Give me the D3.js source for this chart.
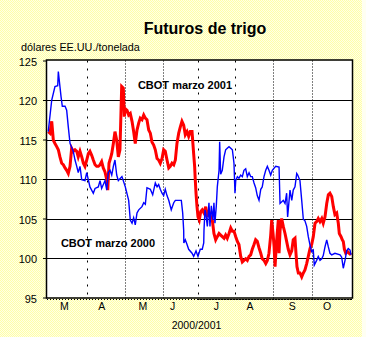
<!DOCTYPE html>
<html><head><meta charset="utf-8">
<script src="https://cdn.jsdelivr.net/npm/d3@7"></script>
<style>
html,body{margin:0;padding:0;background:#fffff0;}
svg{display:block;font-family:"Liberation Sans",Arial,sans-serif;}
</style></head>
<body>
<svg id="c" width="366" height="337"></svg>
<script>
// ---- data (day offsets from 1 March 2000, price in US$/t) ----
const title = "Futuros de trigo";
const unitLabel = "dólares EE.UU./tonelada";
const xTitle = "2000/2001";
const seriesNames = ["CBOT marzo 2001", "CBOT marzo 2000"];
const monthLabels = ["M","A","M","J","J","A","S","O"];
const monthLabelDays = [14, 44, 77, 101, 136, 163, 197, 225];
const monthStartDays = [32, 63, 93.5, 121, 151, 181.5, 213];
const monthStartStyle = ["sparse","fine","fine","sparse","sparse","fine","fine"];
const yTicks = [95, 100, 105, 110, 115, 120, 125];

const redDays = [1,2.4,3.8,5.1,6.4,7.8,9.1,10.4,11.8,13.1,14.5,15.8,17.1,18.5,19.8,21.1,22.5,23.9,25.1,26.5,27.9,29.2,30.5,31.9,33.2,34.5,35.9,37.2,38.6,39.9,41.2,42.6,43.9,45.2,46.6,48,48.8,49.8,50.6,52,53.3,54.6,56,57.3,58.6,60,61.3,62.1,62.9,64.3,65.6,66.9,68.3,69.6,70.9,72.3,73.7,74.9,76.3,77.7,79,80.3,81.7,83,84.3,85.7,87,88.4,89.7,91,92.4,93.7,95,96.4,97.8,99,100.4,101.8,103.1,104.4,105.8,107.1,108.4,109.8,111.1,112.5,113.8,115.1,116.5,117.8,118.6,119.1,119.7,120.5,121.3,122.3,123.5,124.7,126.1,127.5,128.8,130.1,131.5,132.8,134.1,135.5,136.8,138.2,139.5,140.8,142.2,143.5,144.8,146.2,147.6,148.9,150.2,151.6,152.9,154.2,155.6,156.9,158.2,159.6,160.9,162.3,163.6,164.9,166.3,167.6,168.9,170.3,171.7,172.9,174.3,175.7,177,178.3,179.7,180.5,181.6,182.4,183.2,184.3,185.8,186.4,187.2,188.5,189.8,191.2,192.5,193.8,195.2,196.6,197.8,199.2,200,200.8,201.9,203.2,204.6,205.9,207.2,208.6,209.9,211.3,212.6,213.9,215.3,216.6,217.9,219.3,220.7,221.9,223.3,224.7,226,227.3,228.7,230,231.3,232.7,234,234.8,236.2,237.2,238,238.9,240,241.5,242.6,244.2];
const redValues = [116.0,115.8,117.3,114.9,114.5,114.1,113.7,112.8,112.0,111.8,111.4,111.1,110.7,111.6,113.9,113.5,113.7,113.5,112.8,113.5,112.8,112.0,111.6,112.4,113.2,113.5,113.0,112.4,111.8,111.6,111.6,111.8,112.2,111.4,110.9,109.9,108.6,112.0,112.4,113.2,114.5,116.0,114.9,112.8,113.7,121.7,121.5,117.9,118.9,118.7,118.1,118.3,117.3,116.0,114.5,116.2,117.1,117.7,117.5,118.1,117.7,117.5,116.2,115.8,114.7,114.3,113.7,112.6,112.4,112.0,112.6,113.7,113.5,112.4,111.4,111.6,112.0,111.8,112.4,114.5,115.8,116.6,117.3,116.8,115.6,116.0,115.4,116.0,116.0,113.2,111.6,109.9,108.2,106.5,105.2,104.8,105.9,106.1,105.7,106.5,105.2,105.9,105.2,104.8,103.1,102.3,102.7,103.1,102.9,102.7,102.5,102.9,102.5,103.1,103.8,103.4,103.4,102.7,102.1,101.7,100.2,99.5,99.7,99.9,99.7,100.2,100.4,101.1,101.7,102.3,102.1,101.3,100.6,99.9,99.7,99.3,99.7,100.6,102.9,104.8,103.1,101.5,98.9,101.9,104.8,100.6,103.5,105.0,104.0,103.1,102.1,101.1,100.4,100.9,102.3,102.5,100.6,98.9,98.1,98.1,97.6,98.1,98.5,99.3,100.2,101.2,101.7,102.7,104.4,104.6,105.0,104.6,105.0,104.4,105.2,106.9,108.0,108.2,107.8,106.5,105.5,105.7,104.4,103.1,102.7,102.3,102.1,101.1,100.6,100.8,100.6,100.4];

const blueDays = [1,3.8,6.4,8.6,9.1,10.4,11.3,12.3,14.5,15.8,17.1,18.5,21.1,22.5,23.9,25.1,26.5,27.9,30.5,31.9,34.5,37.2,38.6,41.2,42.6,43.9,46.6,48,49.2,50.6,52,53.3,54.6,56,57.3,60.2,62.9,65.6,66.9,68.3,69.6,70.9,72.3,73.7,76.3,77.7,79,80.3,83,84.9,87,88.4,89.7,91,92.4,93.7,95,96.4,97.8,99.8,101.8,103.1,105.8,107.9,109,109.8,109.9,111.1,112.5,113.8,116.5,117.8,119.7,121.3,123.1,124.7,125.9,126.1,126.9,127.5,128.8,130.1,130.9,132,133.3,134.1,134.9,136,136.8,138.2,138.7,139.5,140.8,142.2,143.5,144.8,146.2,147.6,148.9,150.2,151,151.6,152.9,154.2,155.6,156.9,158.2,159.6,160.9,162.3,163.6,164.9,166.3,167.6,168.9,170.3,171.7,172.9,174.3,175.7,177,178.3,179.7,181,183.7,186.4,187.2,189.8,191.2,192.5,193.3,195.2,196.6,197.8,199.2,200.6,201.4,203.2,204.6,205.9,207.2,208.6,209.9,211.3,212.6,213.9,214.7,216.6,217.9,219.3,220.7,221.9,223.3,224.7,226,227.3,228.7,231.3,235.4,236.7,238,239.4,240.7,242,243.4,244.2];
const blueValues = [116.0,120.0,121.7,121.8,123.6,121.7,120.4,119.2,119.2,118.7,116.6,114.5,113.5,112.4,111.6,110.8,111.6,109.9,109.8,110.8,109.0,108.2,108.8,109.0,109.8,108.8,109.8,108.6,110.8,111.1,110.5,111.6,112.4,110.5,109.8,110.3,109.0,107.3,104.8,104.4,105.1,104.2,105.7,106.1,106.5,107.0,106.8,108.9,108.7,108.0,109.5,109.0,109.3,108.7,108.2,107.9,108.7,107.9,107.3,106.1,107.0,107.3,107.3,107.3,105.7,103.5,101.9,102.3,101.7,101.1,100.6,100.2,100.9,100.2,101.1,101.1,101.9,103.5,106.1,105.7,104.0,107.0,104.0,106.6,104.8,107.0,104.4,106.6,109.0,111.1,114.7,110.6,111.1,112.8,113.7,113.9,114.1,113.9,113.7,112.0,108.2,109.8,110.3,110.1,110.5,110.3,111.1,111.3,110.3,110.8,110.3,110.3,109.5,108.9,107.9,107.3,108.7,109.0,110.3,111.1,111.6,111.1,110.5,111.1,111.6,111.5,106.9,107.3,106.9,108.2,105.2,108.6,107.3,108.6,109.0,110.7,110.5,109.8,107.3,104.9,104.7,104.0,102.7,101.6,100.8,101.0,99.1,99.7,100.2,99.7,99.9,100.3,101.4,102.3,101.4,100.6,100.4,100.6,100.4,100.1,98.7,99.7,100.9,101.2,101.0,100.4];

// ---- drawing ----
const svg = d3.select("#c");
const W = 366, H = 337;
const m = {left: 47, right: 352, top: 60.5, bottom: 297.5};

const defs = svg.append("defs");
const pat = defs.append("pattern").attr("id","dith").attr("width",2).attr("height",2)
  .attr("patternUnits","userSpaceOnUse");
pat.append("rect").attr("width",2).attr("height",2).attr("fill","#ffffe6");
pat.append("rect").attr("width",1).attr("height",1).attr("fill","#ffffa8");
pat.append("rect").attr("x",1).attr("y",1).attr("width",1).attr("height",1).attr("fill","#ffffa8");

svg.append("rect").attr("width",W).attr("height",H).attr("fill","#fffff2");
svg.append("rect").attr("width",362).attr("height",H).attr("fill","url(#dith)");

const x = d3.scaleLinear().domain([0, 245]).range([m.left, m.right]);
const y = d3.scaleLinear().domain([95, 125]).range([m.bottom, m.top]);

// plot area
svg.append("rect").attr("x",m.left).attr("y",m.top)
  .attr("width",m.right-m.left).attr("height",m.bottom-m.top).attr("fill","#fff");

// horizontal gridlines
svg.append("g").selectAll("line").data(yTicks.filter(v=>v>95 && v<125)).join("line")
  .attr("x1",m.left).attr("x2",m.right)
  .attr("y1",d=>Math.round(y(d))+0.5).attr("y2",d=>Math.round(y(d))+0.5)
  .attr("stroke","#000").attr("stroke-width",1);

// month dividers
svg.append("g").selectAll("line").data(monthStartDays).join("line")
  .attr("x1",d=>Math.round(x(d))+0.5).attr("x2",d=>Math.round(x(d))+0.5)
  .attr("y1",m.top).attr("y2",m.bottom+3)
  .attr("stroke","#000").attr("stroke-width",1)
  .attr("stroke-dasharray",(d,i)=>monthStartStyle[i]==="fine" ? "1,2" : "2,6");

// series
const line = d3.line().x(d=>x(d[0])).y(d=>y(d[1]));
const red = redDays.map((d,i)=>[d, redValues[i]]);
const blue = blueDays.map((d,i)=>[d, blueValues[i]]);
svg.append("path").datum(red).attr("d",line).attr("fill","none")
  .attr("stroke","#ff0000").attr("stroke-width",3).attr("stroke-linejoin","miter");
svg.append("path").datum(blue).attr("d",line).attr("fill","none")
  .attr("stroke","#0000ff").attr("stroke-width",1.4);

// frame
svg.append("rect").attr("x",m.left-0.5).attr("y",m.top-0.5)
  .attr("width",m.right-m.left+1).attr("height",m.bottom-m.top+1)
  .attr("fill","none").attr("stroke","#000").attr("stroke-width",1.5);

// bottom tick strip
svg.append("line").attr("x1",m.left).attr("x2",m.right).attr("y1",m.bottom+2).attr("y2",m.bottom+2)
  .attr("stroke","#000").attr("stroke-dasharray","1,2");
svg.append("line").attr("x1",x(121)).attr("x2",m.right).attr("y1",m.bottom+2).attr("y2",m.bottom+2)
  .attr("stroke","#000").attr("stroke-width",1.2).attr("stroke-dasharray","2,1");

// y axis
const yAxis = d3.axisLeft(y).tickValues(yTicks).tickSize(4).tickFormat(d3.format("d"));
const ga = svg.append("g").attr("transform",`translate(${m.left},0)`).call(yAxis);
ga.select(".domain").remove();
ga.selectAll("line").attr("stroke","#000");
ga.selectAll("text").attr("font-size",11).attr("fill","#000").attr("dx",-3).attr("dy","0.42em")
  .attr("font-family","Liberation Sans, Arial, sans-serif");

// month labels
svg.append("g").selectAll("text").data(monthLabels).join("text")
  .attr("x",(d,i)=>x(monthLabelDays[i])).attr("y",310)
  .attr("text-anchor","middle").attr("font-size",10.5).text(d=>d);

svg.append("text").attr("x",196.5).attr("y",328.5).attr("text-anchor","middle")
  .attr("font-size",10.5).text(xTitle);

svg.append("text").attr("x",205).attr("y",33.5).attr("text-anchor","middle")
  .attr("font-size",16).attr("font-weight","bold").text(title);
svg.append("text").attr("x",21).attr("y",50.5).attr("font-size",10.8).text(unitLabel);

svg.append("text").attr("x",185).attr("y",89).attr("text-anchor","middle")
  .attr("font-size",11).attr("font-weight","bold").text(seriesNames[0]);
svg.append("text").attr("x",108).attr("y",246.5).attr("text-anchor","middle")
  .attr("font-size",11).attr("font-weight","bold").text(seriesNames[1]);
</script>
</body></html>
